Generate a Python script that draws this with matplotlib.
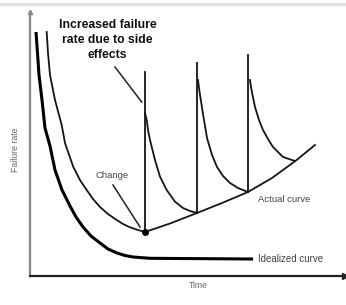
import matplotlib
matplotlib.use("Agg")
import matplotlib.pyplot as plt
from matplotlib.lines import Line2D

# ---- data (arbitrary time / failure-rate units) ----
ideal_t = [6, 7.5, 9, 12, 15, 20, 25, 32, 40, 46, 53, 61, 70, 78, 87, 95, 103, 120, 223]
ideal_r = [244, 223, 201, 176, 148, 130, 106, 86, 70, 59, 49, 40, 33, 27, 23, 20.5, 19, 17.7, 17]

actual_t = [16.7, 18, 20, 25, 31.7, 35, 43.3, 50, 56.7, 63, 70, 78, 86.7, 93, 100,
            108, 115, 140, 167, 192, 218, 242, 266, 285]
actual_r = [244, 223, 201, 176, 151, 133, 109, 96, 86, 77, 69, 62, 56, 52, 48.7,
            46, 44, 52.5, 63, 73, 84, 98, 115.5, 131]

spike_t = [115, 167, 218]
spike_top = [204, 213, 221]
spike_bottom = [44, 63, 84]

decay1_t = [115, 116.7, 118, 120, 122.5, 125, 130, 136.7, 145, 153, 160, 167]
decay1_r = [163, 156, 146, 136, 126, 116, 99.3, 86, 74.3, 68, 65, 63]
decay2_t = [168, 169, 170.5, 173, 177, 182, 187, 193, 200, 208, 218]
decay2_r = [196, 188, 178, 162, 138, 121, 109, 100, 93, 88, 84]
decay3_t = [220, 221, 222.5, 225, 229, 233, 238, 243, 248, 253, 259, 265]
decay3_r = [196, 189, 181, 169, 156, 146, 137, 129, 124, 119, 117, 115]

change_point = (115, 44)

title_text = "Increased failure\nrate due to side\neffects"
change_label = "Change"
actual_label = "Actual curve"
ideal_label = "Idealized curve"
x_label = "Time"
y_label = "Failure rate"

# ---- figure ----
W, H = 346, 305
fig = plt.figure(figsize=(W / 100, H / 100), dpi=100)
ax = fig.add_axes([30 / W, 29 / H, 315 / W, 264 / H])
ax.set_xlim(0, 315)
ax.set_ylim(0, 264)
ax.set_xticks([])
ax.set_yticks([])
for s in ["top", "right"]:
    ax.spines[s].set_visible(False)
ax.spines["left"].set_color("#888888")
ax.spines["left"].set_linewidth(1.6)
ax.spines["bottom"].set_color("#222222")
ax.spines["bottom"].set_linewidth(1.6)
ax.plot(1, 0, ">", color="#222222", ms=4, transform=ax.transAxes, clip_on=False)
ax.plot(0, 1, "^", color="#888888", ms=3, transform=ax.transAxes, clip_on=False)

# faint top border
fig.add_artist(Line2D([0, 1], [1 - 4 / H, 1 - 4 / H], color="#e3e3e3", lw=2.5,
                      transform=fig.transFigure))

lc = "#151515"
ax.plot(ideal_t, ideal_r, color="black", lw=2.2, solid_capstyle="butt",
        solid_joinstyle="round")
ax.plot(actual_t, actual_r, color=lc, lw=1.3, solid_joinstyle="round")
for t, top, bot in zip(spike_t, spike_top, spike_bottom):
    ax.plot([t, t], [bot, top], color=lc, lw=1.3)
for dt, dr in [(decay1_t, decay1_r), (decay2_t, decay2_r), (decay3_t, decay3_r)]:
    ax.plot(dt, dr, color=lc, lw=1.3, solid_joinstyle="round")
ax.plot(*change_point, "o", color="black", ms=4)

fam = ["Liberation Sans", "DejaVu Sans"]
ax.text(77.5, 236, title_text, ha="center", va="center", fontsize=8.8,
        fontweight="bold", family=fam, linespacing=1.35, color="#111111")
ax.plot([85, 111.7], [209, 174], color="#222222", lw=1.1)

ax.text(81.7, 101, change_label, ha="center", va="center", fontsize=6.8,
        family=fam, color="#444444")
ax.plot([83, 110], [91, 49], color="#222222", lw=1.1)

ax.text(228, 77, actual_label, ha="left", va="center", fontsize=6.8,
        family=fam, color="#444444")
ax.text(228, 17, ideal_label, ha="left", va="center", fontsize=7,
        family=fam, color="#444444")

fig.text(198 / W, 1 - 285 / H, x_label, ha="center", va="center",
         fontsize=6.2, family=fam, color="#666666")
fig.text(16 / W, 1 - 150 / H, y_label, ha="center", va="center",
         fontsize=6.3, family=fam, color="#666666", rotation=90)

fig.savefig("out.png", dpi=100)
